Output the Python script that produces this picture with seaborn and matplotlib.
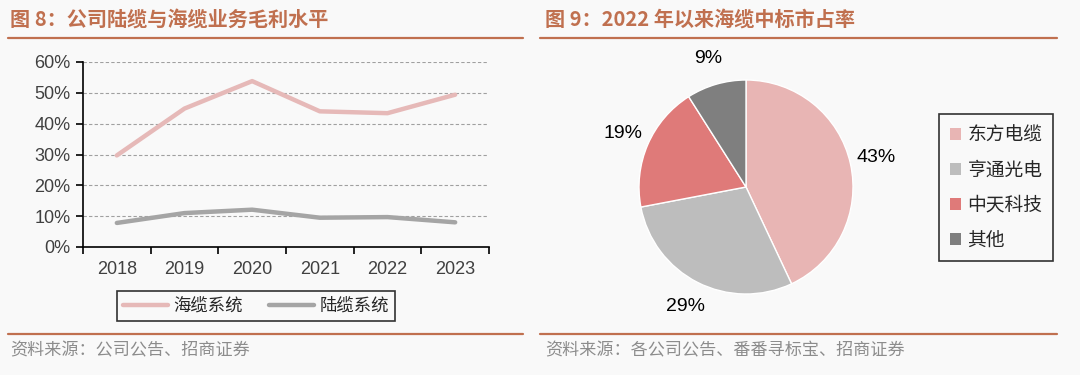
import numpy as np
import pandas as pd
import matplotlib.pyplot as plt
from matplotlib.lines import Line2D
from matplotlib.patches import Patch
import seaborn as sns

# data
years = ['2018', '2019', '2020', '2021', '2022', '2023']
sea_margin = [29.7, 44.9, 53.8, 44.0, 43.4, 49.4]    # 海缆系统
land_margin = [7.8, 11.0, 12.1, 9.5, 9.7, 8.0]       # 陆缆系统
series_names = ['海缆系统', '陆缆系统']

companies = ['东方电缆', '亨通光电', '中天科技', '其他']
shares = [43, 29, 19, 9]

line_colors = {'海缆系统': '#e6b9b8', '陆缆系统': '#a5a5a5'}
pie_colors = ['#e8b5b4', '#bdbdbd', '#df7a79', '#7f7f7f']
title_color = '#c0704f'
rule_color = '#c0704f'
bg = '#f9f9f9'

sns.set_style('white')
plt.rcParams['font.family'] = ['Noto Sans CJK SC', 'DejaVu Sans']
num_font = ['Liberation Sans', 'DejaVu Sans']

fig = plt.figure(figsize=(10.8, 3.75), dpi=100, facecolor=bg)

# ---- headers and footers ----
fig.text(10 / 1080, 1 - 19 / 375, '图 8：公司陆缆与海缆业务毛利水平', color=title_color,
         fontsize=14.5, fontweight='bold', va='center', ha='left')
fig.text(545 / 1080, 1 - 19 / 375, '图 9：2022 年以来海缆中标市占率', color=title_color,
         fontsize=14.5, fontweight='bold', va='center', ha='left')
for x0, x1 in [(8, 523), (540, 1057)]:
    for y in (38, 334):
        fig.add_artist(Line2D([x0 / 1080, x1 / 1080], [1 - y / 375] * 2,
                              color=rule_color, lw=1.6))
fig.text(10 / 1080, 1 - 350 / 375, '资料来源：公司公告、招商证券', color='#8c8c8c',
         fontsize=12.3, va='center', ha='left')
fig.text(545 / 1080, 1 - 350 / 375, '资料来源：各公司公告、番番寻标宝、招商证券', color='#8c8c8c',
         fontsize=12.3, va='center', ha='left')

# ---- left: line chart ----
ax = fig.add_axes([83 / 1080, 1 - 247 / 375, 406 / 1080, 185 / 375])
ax.set_facecolor(bg)
df = pd.DataFrame({'year': years * 2,
                   'value': sea_margin + land_margin,
                   'series': [series_names[0]] * 6 + [series_names[1]] * 6})
sns.lineplot(data=df, x='year', y='value', hue='series', palette=line_colors,
             linewidth=3.2, ax=ax, legend=False, sort=False)
ax.set_xlim(-0.5, 5.5)
ax.set_ylim(0, 60)
ax.set_yticks(np.arange(0, 61, 10))
ax.set_yticklabels([f'{v}%' for v in range(0, 61, 10)], family=num_font,
                   fontsize=13, color='#404040')
ax.set_xticks(range(6))
ax.set_xticklabels(years, family=num_font, fontsize=13, color='#404040')
ax.set_xticks(np.arange(-0.5, 6, 1), minor=True)
ax.tick_params(axis='x', which='major', bottom=True, length=0, pad=10)
ax.tick_params(axis='x', which='minor', bottom=True, length=5, width=1.2,
               direction='out', color='black')
ax.tick_params(axis='y', left=True, length=5, width=1.2, direction='out',
               color='black', pad=4)
ax.set_xlabel('')
ax.set_ylabel('')
for s in ['top', 'right']:
    ax.spines[s].set_visible(False)
for s in ['left', 'bottom']:
    ax.spines[s].set_color('black')
    ax.spines[s].set_linewidth(1.2)
for v in range(10, 61, 10):
    ax.axhline(v, color='#a0a0a0', lw=0.8, ls=(0, (3, 2)), zorder=0)

handles = [Line2D([], [], color=line_colors[n], lw=3.2) for n in series_names]
leg = fig.legend(handles, series_names, loc='center', bbox_to_anchor=(256 / 1080, 1 - 306 / 375),
                 ncol=2, frameon=True, fancybox=False, fontsize=12.5, handlelength=2.6,
                 columnspacing=1.5, handletextpad=0.3, borderpad=0.35, borderaxespad=0,
                 handleheight=0.7)
leg.get_frame().set_edgecolor('black')
leg.get_frame().set_linewidth(1.2)
leg.get_frame().set_facecolor(bg)

# ---- right: pie ----
pax = fig.add_axes([612.25 / 1080, 1 - 320.75 / 375, 267.5 / 1080, 267.5 / 375])
pax.set_facecolor(bg)
wedges, _, autotexts = pax.pie(shares, colors=pie_colors, startangle=90, counterclock=False,
                               autopct='%.0f%%', pctdistance=1.25,
                               textprops={'fontsize': 14, 'family': num_font, 'color': 'black'})

handles = [Patch(facecolor=c, edgecolor='none') for c in pie_colors]
leg2 = fig.legend(handles, companies, loc='center', bbox_to_anchor=(996 / 1080, 1 - 187.5 / 375),
                  frameon=True, fancybox=False, fontsize=13.5, handlelength=0.6, handleheight=0.6,
                  handletextpad=0.35, labelspacing=0.75, borderpad=0.55)
leg2.get_frame().set_edgecolor('black')
leg2.get_frame().set_linewidth(1.2)
leg2.get_frame().set_facecolor(bg)

fig.savefig('out.png', dpi=100, facecolor=bg)
